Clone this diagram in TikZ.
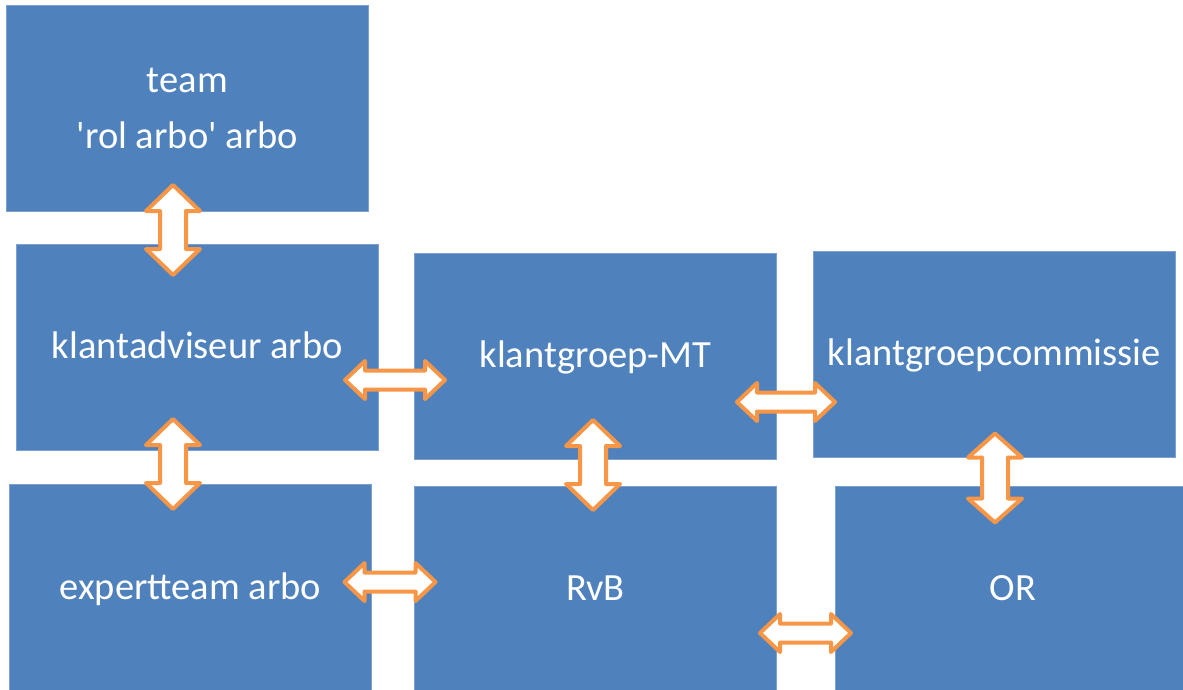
\documentclass[tikz,border=0pt]{standalone}
\usepackage{fontspec}
\setmainfont{Carlito}
\definecolor{boxblue}{RGB}{79,129,189}
\definecolor{boxedge}{RGB}{125,160,210}
\definecolor{arrorange}{RGB}{247,150,70}
\tikzset{
  box/.style={draw=boxedge, line width=0.8pt, fill=boxblue, text=white, anchor=north west,
    inner sep=0pt, font=\fontsize{38.5}{56}\selectfont},
  oneline/.style={text height=23.1pt, text depth=1.1pt},
  blockarrow/.style={draw=arrorange, fill=white, line width=4pt, line join=round}
}
% #1 name, #2 centre, #3 angle, #4 half length, #5 head length, #6 head half-width, #7 shaft half-width
\newcommand\darrow[7]{%
  \coordinate (#1) at #2;
  \draw[blockarrow, shift={(#1)}, rotate=#3]
    (-#4,0) -- (-#4+#5,#6) -- (-#4+#5,#7) -- (#4-#5,#7) -- (#4-#5,#6) -- (#4,0)
    -- (#4-#5,-#6) -- (#4-#5,-#7) -- (-#4+#5,-#7) -- (-#4+#5,-#6) -- cycle;
}
\begin{document}
\begin{tikzpicture}[x=1pt,y=-1pt]
\useasboundingbox (0,0) rectangle (1183,689);
% boxes
\node[box, align=center, minimum width=362pt, minimum height=206pt] (team) at (6,5) {team\\\textquotesingle rol arbo\textquotesingle{} arbo};
\node[box, oneline, minimum width=362pt, minimum height=206pt] (ka) at (16,244) {klantadviseur arbo};
\node[box, oneline, minimum width=362pt, minimum height=208pt] (et) at (9,484) {expertteam arbo};
\node[box, oneline, minimum width=362pt, minimum height=206pt] (mt) at (414,253) {klantgroep-MT};
\node[box, oneline, minimum width=362pt, minimum height=206pt] (rvb) at (414,486) {RvB};
\node[box, oneline, minimum width=362pt, minimum height=206pt] (kc) at (813,251) {klantgroepcommissie};
\node[box, oneline, minimum width=355pt, minimum height=206pt] (or) at (835,486) {OR};
% block arrows
\darrow{a1}{(173,230)}{90}{45}{26}{27}{13}
\darrow{a2}{(173,464)}{90}{45}{26}{27}{13}
\darrow{a5}{(593,465)}{90}{45}{26}{27}{13}
\darrow{a7}{(995,478)}{90}{44.5}{24}{27}{13}
\darrow{a3}{(395,380)}{0}{50}{20}{19}{9.5}
\darrow{a6}{(786,402)}{0}{49}{20}{19}{9.5}
\darrow{a4}{(390,582)}{0}{45.5}{20}{19}{9.5}
\darrow{a8}{(805.5,633)}{0}{45.5}{20}{19}{9.5}
\end{tikzpicture}
\end{document}
